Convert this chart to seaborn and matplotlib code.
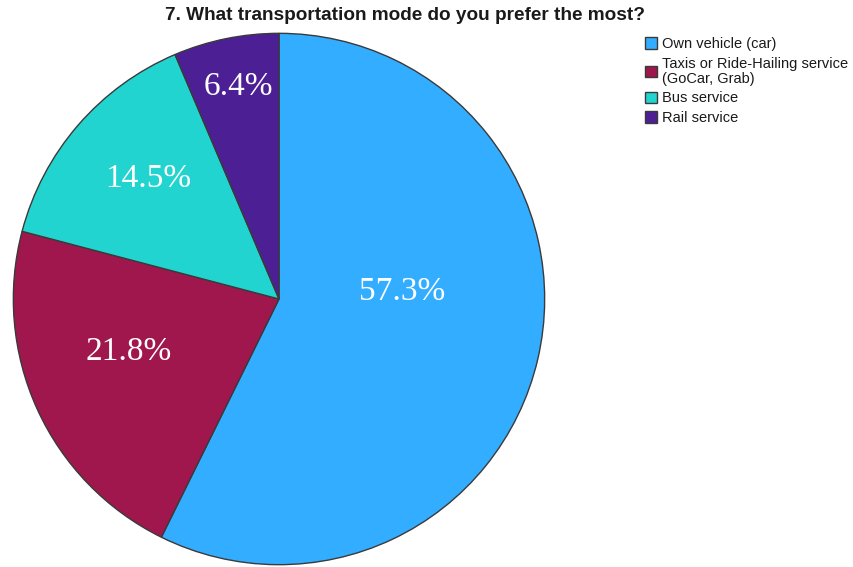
import matplotlib
matplotlib.use("Agg")
import matplotlib.pyplot as plt
import seaborn as sns

# Survey answers: preferred transportation mode
modes = ["Own vehicle (car)", "Taxis or Ride-Hailing service\n(GoCar, Grab)",
         "Bus service", "Rail service"]
shares = [57.3, 21.8, 14.5, 6.4]
colors = ["#33adff", "#a0174d", "#22d4cf", "#4d1f94"]

# where each percentage sits inside its wedge (axes data units, radius 1)
label_xy = [(0.464, 0.026), (-0.566, -0.199), (-0.494, 0.453), (-0.154, 0.800)]

sns.set_theme(style="white")
plt.rcParams["font.family"] = ["Liberation Sans", "DejaVu Sans"]

W, H = 854, 567
fig = plt.figure(figsize=(W / 100, H / 100), dpi=100)
cx, cy, r = 279, 299, 267
ax = fig.add_axes([(cx - r) / W, (H - cy - r) / H, 2 * r / W, 2 * r / H])

wedges, _ = ax.pie(shares, colors=colors, startangle=90, counterclock=False,
                   wedgeprops=dict(edgecolor="#3a3a3a", linewidth=1.0))
ax.set_xlim(-1.005, 1.005)
ax.set_ylim(-1.005, 1.005)
ax.set_aspect("equal")

for (x, y), v in zip(label_xy, shares):
    ax.text(x, y, f"{v:.1f}%", ha="center", va="center", color="white",
            fontsize=24, family=["Liberation Serif", "DejaVu Serif"])

fig.text(405 / W, 1 - 16 / H, "7. What transportation mode do you prefer the most?",
         ha="center", va="center", fontsize=13.7, fontweight="bold", color="#1a1a1a")

leg = fig.legend(wedges, modes, loc="upper left",
                 bbox_to_anchor=(645 / W, 1 - 37 / H), frameon=False,
                 fontsize=10.5, handlelength=0.85, handleheight=0.85,
                 handletextpad=0.3, labelspacing=0.38, borderpad=0,
                 borderaxespad=0)
for t in leg.get_texts():
    t.set_color("#1a1a1a")
    t.set_linespacing(1.12)
for p in leg.get_patches():
    p.set_edgecolor("#3a3a3a")
    p.set_linewidth(1.0)

fig.savefig("out.png", dpi=100)
